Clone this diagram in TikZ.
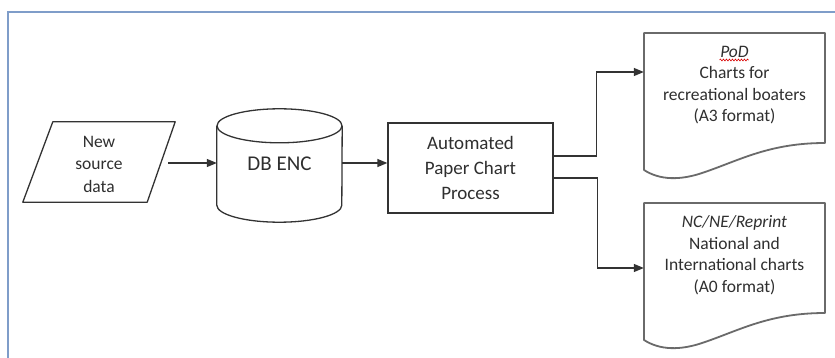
\documentclass[tikz,border=0pt]{standalone}
\usepackage{fontspec}
\setmainfont{Carlito}
\usetikzlibrary{arrows.meta,calc,decorations.pathmorphing}

\definecolor{frameblue}{HTML}{7F9DC9}
\definecolor{ink}{HTML}{333333}
\definecolor{txt}{HTML}{2F2F2F}
\definecolor{docline}{HTML}{6A6A6A}

\begin{document}
\begin{tikzpicture}[x=1pt,y=-1pt,
  lbl/.style={font=\fontsize{17.5}{21.5}\selectfont, text=txt, align=center, inner sep=0pt},
  widelbl/.style={lbl, font=\fontsize{19}{25}\selectfont},
  shapeline/.style={draw=ink, line width=1.3pt, line join=round},
  docedge/.style={draw=docline, line width=1.8pt, line join=round},
  arr/.style={draw=ink, line width=1.3pt, -{Triangle[length=10pt,width=8pt]}},
  docshape/.pic={
    \draw[docedge, fill=white] (-90.5,-52) -- (90.5,-52) -- (90.5,58)
      .. controls (35.5,58) and (5.5,75) .. (-29.5,87)
      .. controls (-54.5,96) and (-75,95) .. (-90.5,85) -- cycle;
  }
]
\useasboundingbox (0,0) rectangle (835,358);
\fill[white] (0,0) rectangle (835,358);

% page frame
\draw[frameblue, line width=2pt] (8,358) -- (8,12) -- (835,12);

% input data (parallelogram)
\node[lbl, font=\fontsize{17.5}{22.5}\selectfont, minimum width=152pt, minimum height=80pt]
  (src) at (99,164) {New\\source\\data};
\draw[shapeline] ($(src.north west)+(30,-2)$) -- ($(src.north east)+(0,-2)$)
  -- ($(src.south east)+(-28,-2)$) -- ($(src.south west)+(0,-2)$) -- cycle;

% database (cylinder)
\node[lbl, minimum width=125pt, minimum height=79pt] (db) at (279.5,163) {};
\draw[shapeline, fill=white] ($(db.north west)+(0,2.5)$) -- ($(db.south west)+(0,2.5)$)
  arc[start angle=180, end angle=360, x radius=62.5pt, y radius=17pt]
  -- ($(db.north east)+(0,2.5)$);
\draw[shapeline] ($(db.north)+(0,2.5)$) ellipse[x radius=62.5pt, y radius=17pt];
\node[lbl, font=\fontsize{21}{25}\selectfont] at ($(db.center)+(0,1)$) {DB ENC};

% process
\node[widelbl, draw=ink, line width=1.3pt, minimum width=165pt, minimum height=90pt] (proc)
  at (470.5,168) {Automated\\Paper Chart\\Process};

% output documents
\pic at (734.5,85) {docshape};
\node[lbl, minimum width=181pt, minimum height=110pt] (doc1) at (734.5,85)
  {\textit{PoD}\\Charts for\\recreational boaters\\(A3 format)};
\draw[red!85!black, line width=0.6pt, decorate,
  decoration={snake, amplitude=0.9pt, segment length=3pt}]
  ($(doc1.center)+(-15,-25)$) -- ($(doc1.center)+(14,-25)$);

\pic at (734.5,255) {docshape};
\node[lbl, minimum width=181pt, minimum height=110pt] (doc2) at (734.5,255)
  {\textit{NC/NE/Reprint}\\National and\\International charts\\(A0 format)};

% connectors
\draw[arr] ($(src.east)+(-7,-1)$) -- (db.west |- {$(src.east)+(0,-1)$});
\draw[arr] (db.east) -- (proc.west |- db.east);
\draw[arr] ($(proc.east)+(0,-12)$) -- ++(43,0) |- ($(doc1.west)+(0,-13)$);
\draw[arr] ($(proc.east)+(0,10)$) -- ++(44,0) |- ($(doc2.west)+(0,13)$);
\end{tikzpicture}
\end{document}
